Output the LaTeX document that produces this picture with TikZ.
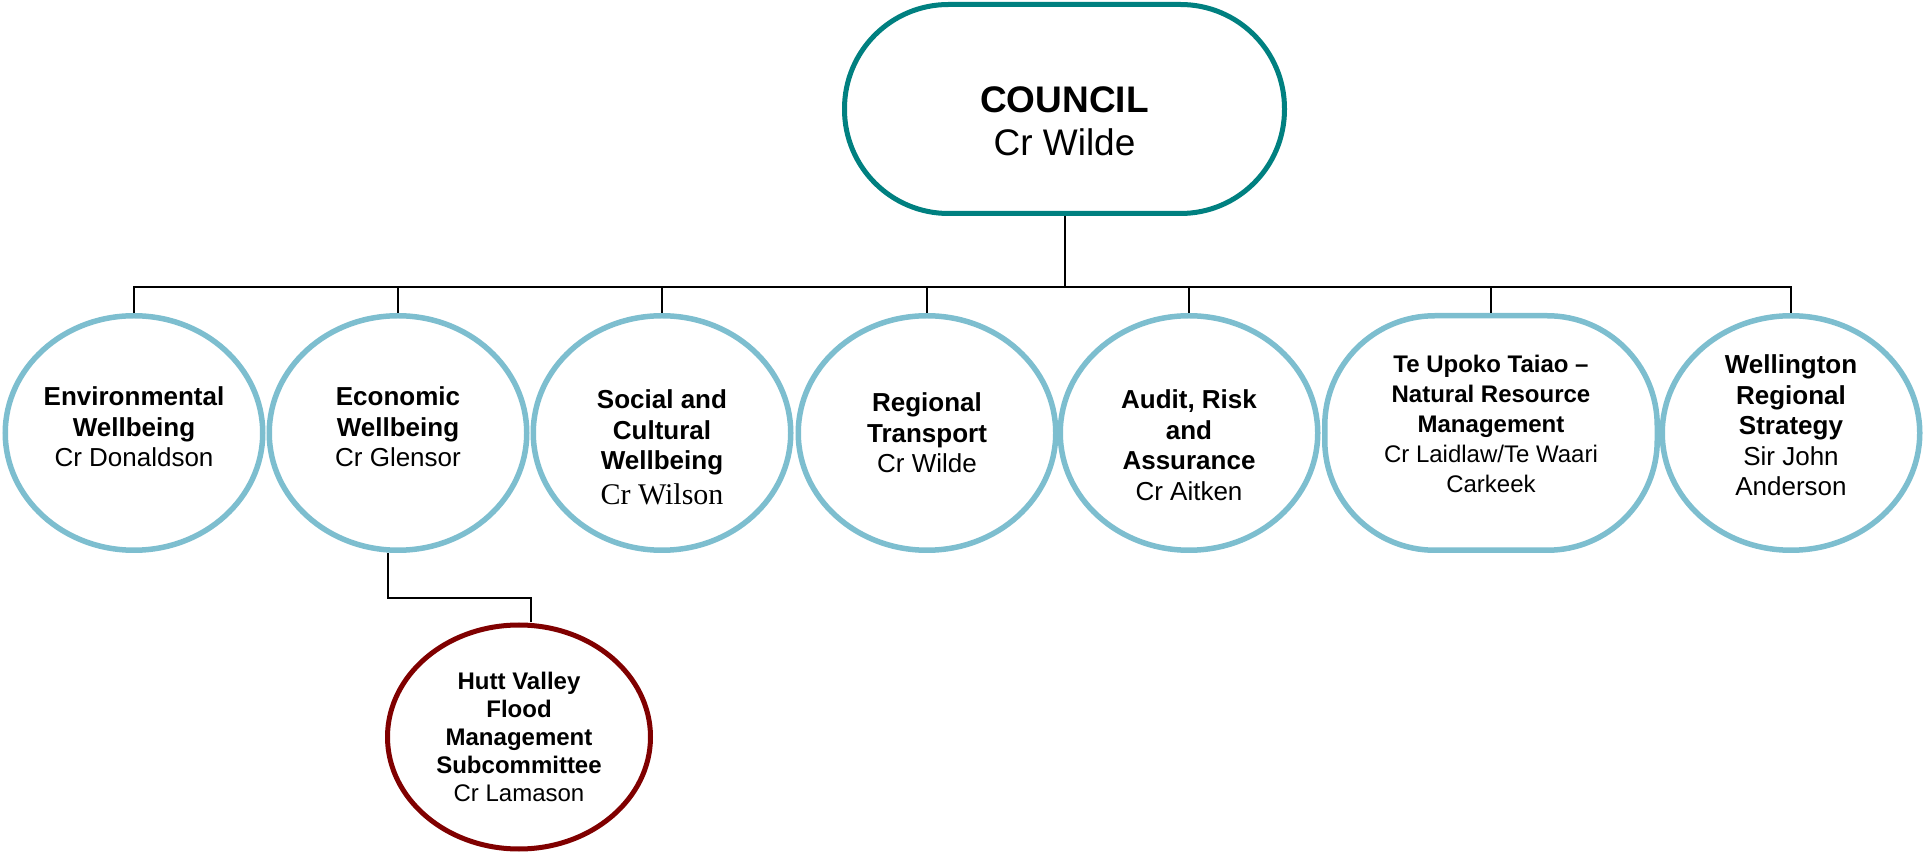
\documentclass[tikz,border=0pt]{standalone}
\usepackage{fontspec}
\setmainfont{Liberation Sans}
\newfontfamily\wilsonfont{Liberation Serif}
\usetikzlibrary{shapes.geometric}
\definecolor{councilteal}{RGB}{0,128,128}
\definecolor{cmteblue}{RGB}{125,190,207}
\definecolor{subred}{RGB}{128,0,0}

\begin{document}
\begin{tikzpicture}[x=0.5pt,y=-0.5pt,
    council/.style={draw=councilteal, line width=2.5pt, rectangle, rounded corners=52pt, fill=white, inner sep=0pt, align=center, minimum width=220pt, minimum height=104.5pt, font=\fontsize{18.5}{21.5}\selectfont},
    cmte/.style={draw=cmteblue, line width=2.75pt, ellipse, fill=white, inner sep=0pt, align=center, minimum width=128.75pt, minimum height=117.25pt, font=\fontsize{13}{15.25}\selectfont},
    widecmte/.style={cmte, rectangle, rounded corners=55pt, minimum width=166.25pt, font=\fontsize{12}{15}\selectfont},
    subcmte/.style={draw=subred, line width=2.5pt, ellipse, fill=white, inner sep=0pt, align=center, minimum width=131.5pt, minimum height=112pt, font=\fontsize{12}{14}\selectfont},
    link/.style={draw=black, line width=1pt}]
    \useasboundingbox (0,0) rectangle (1924,855);
    % council and its committees
    \node[council] (council) at (1064.5,109) {\rule{0pt}{25.5pt}\textbf{COUNCIL}\\Cr Wilde};
    \node[cmte] (env) at (134,433) {\textbf{Environmental}\\\textbf{Wellbeing}\\Cr Donaldson\rule[-6pt]{0pt}{0pt}};
    \node[cmte] (econ) at (398,433) {\textbf{Economic}\\\textbf{Wellbeing}\\Cr Glensor\rule[-6pt]{0pt}{0pt}};
    \node[cmte] (soc) at (662,433) {\rule{0pt}{24pt}\textbf{Social and}\\\textbf{Cultural}\\\textbf{Wellbeing}\\[2.25pt]{\wilsonfont\fontsize{15}{17.5}\selectfont Cr Wilson}};
    \node[cmte] (reg) at (927,433) {\textbf{Regional}\\\textbf{Transport}\\Cr Wilde};
    \node[cmte] (audit) at (1189,433) {\rule{0pt}{21.5pt}\textbf{Audit, Risk}\\\textbf{and}\\\textbf{Assurance}\\Cr Aitken};
    \node[widecmte] (tuk) at (1491,433) {\textbf{Te Upoko Taiao --}\\\textbf{Natural Resource}\\\textbf{Management}\\Cr Laidlaw/Te Waari\\Carkeek\rule[-9pt]{0pt}{0pt}};
    \node[cmte] (wrs) at (1791,433) {\textbf{Wellington}\\\textbf{Regional}\\\textbf{Strategy}\\Sir John\\Anderson\rule[-7.5pt]{0pt}{0pt}};
    \node[subcmte] (hutt) at (519,737) {\textbf{Hutt Valley}\\\textbf{Flood}\\\textbf{Management}\\\textbf{Subcommittee}\\Cr Lamason};

    \coordinate (bus) at (1064.5,287);
    \coordinate (elbow) at (460,598);

    \draw[link] (council.south) -- (bus);
    \draw[link] (env.north) |- (bus) -| (wrs.north);
    \draw[link] (econ.north) -- (econ.north |- bus);
    \draw[link] (soc.north) -- (soc.north |- bus);
    \draw[link] (reg.north) -- (reg.north |- bus);
    \draw[link] (audit.north) -- (audit.north |- bus);
    \draw[link] (tuk.north) -- (tuk.north |- bus);
    \draw[link] ([xshift=-5pt]econ.south) |- (elbow) -| ([xshift=6pt]hutt.north);
\end{tikzpicture}
\end{document}
